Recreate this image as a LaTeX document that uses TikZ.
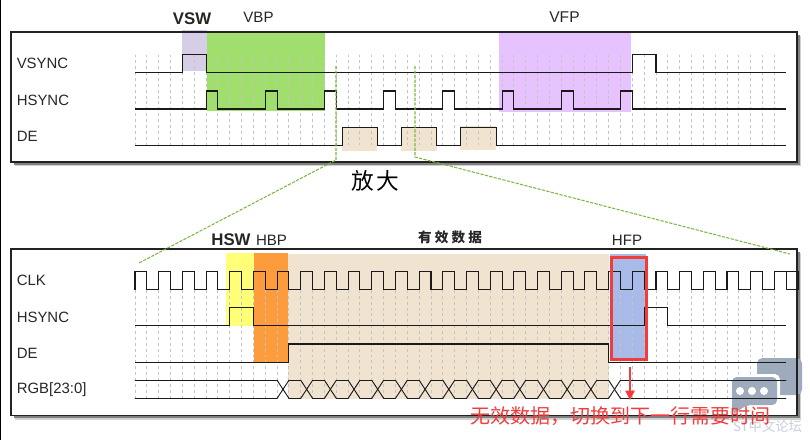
\documentclass[tikz,border=0pt]{standalone}
\usepackage{fontspec}
\setmainfont{Liberation Sans}
\newfontfamily\cjkf{Noto Sans CJK SC}
\usetikzlibrary{arrows.meta}
\definecolor{sigc}{HTML}{1A1A1A}
\definecolor{gridc}{HTML}{C4C4C4}
\definecolor{framec}{HTML}{222222}
\definecolor{vswc}{HTML}{D6CEE6}
\definecolor{vbpc}{HTML}{A0DF6E}
\definecolor{vfpc}{HTML}{E6C2FF}
\definecolor{dec}{HTML}{F0E3D0}
\definecolor{hswc}{HTML}{FFFF78}
\definecolor{hbpc}{HTML}{FD9C3C}
\definecolor{hfpc}{HTML}{A8BBE8}
\definecolor{redc}{HTML}{F23C3C}
\definecolor{greenc}{HTML}{7DB843}
\definecolor{wmc}{HTML}{9DABBD}
\definecolor{wmt}{HTML}{C6CFDB}
\tikzset{
  sigline/.style={draw=sigc,line width=0.8pt,line join=miter},
  busline/.style={draw=sigc,line width=0.7pt,line cap=round},
  gridline/.style={draw=gridc,line width=0.7pt,dash pattern=on 2.2pt off 2.2pt},
  framebox/.style={draw=framec,line width=0.9pt},
  shadowfar/.style={fill=black!18,draw=none},
  shadownear/.style={fill=black!50,draw=none},
  siglabel/.style={anchor=west,font=\fontsize{11.2pt}{12pt}\selectfont,text=black!85,inner sep=0pt},
  toplabel/.style={font=\fontsize{11.3pt}{12pt}\selectfont,text=black!85,inner sep=0pt},
  boldlabel/.style={font=\fontsize{12.6pt}{13pt}\selectfont\bfseries,text=black!85,inner sep=0pt},
  zoomline/.style={draw=greenc,line width=0.8pt,dash pattern=on 2.4pt off 1pt},
  cjklabel/.style={inner sep=0pt,text=black!85},
}
\newcommand{\gridrun}[2]{\foreach \i in {0,...,54}{\draw[gridline] ({135+11.84*\i},#1) -- ({135+11.84*\i},#2);}}
\newcommand{\sig}[3]{\draw[sigline] (135,#1) foreach \a/\b in {#3} { -- ({135+11.84*\a},#1) -- ({135+11.84*\a},#2) -- ({135+11.84*\b},#2) -- ({135+11.84*\b},#1) } -- (786,#1);}
\begin{document}
\begin{tikzpicture}[x=0.75pt,y=-0.75pt]
\useasboundingbox (0,0) rectangle (810,440);
\fill[white] (0,0) rectangle (810,440);
\draw[black,line width=1.1pt] (0.6,0) -- (0.6,440);
% top panel
\fill[shadowfar] (15,36) rectangle (801,166);
\fill[shadownear] (13.5,34.5) rectangle (799.5,164.5);
\fill[white] (11,32) rectangle (797,162);
\fill[vswc] (182,29.5) rectangle (207,71);
\fill[vbpc] (207,32) rectangle (325,110.5);
\fill[vfpc] (498.5,32) rectangle (631,112);
\fill[dec] (342,127) rectangle (377,150.5);
\fill[dec] (401,127) rectangle (437,150.5);
\fill[dec] (460,125.5) rectangle (495.5,149.5);
\draw[framebox] (11,32) rectangle (797,162);
\gridrun{54.5}{147}
\sig{72.5}{54.8}{4/6,42/44}
\sig{109}{91}{6/7,11/12,16/17,21/22,26/27,31/32,36/37,41/42}
\sig{145.5}{127.3}{17.5/20.5,22.5/25.5,27.5/30.5}
\node[siglabel] (lvs) at (16.5,63) {VSYNC};
\node[siglabel] (lhs) at (16.5,100) {HSYNC};
\node[siglabel] (lde) at (16.5,136.5) {DE};
\node[boldlabel] (vsw) at (192,19) {VSW};
\node[toplabel] (vbp) at (258.5,17) {VBP};
\node[toplabel,font=\fontsize{11.7pt}{12pt}\selectfont] (vfp) at (564.5,17) {VFP};
\node[cjklabel,font=\fontsize{17pt}{18pt}\cjkf,text=black] (fangda) at (375,181) {放\hspace{1.6pt}大};
% bottom panel
\fill[shadowfar] (15,253) rectangle (801,419.5);
\fill[shadownear] (13.5,251.5) rectangle (799.5,418);
\fill[white] (11,249) rectangle (797,415.5);
\fill[dec] (287.5,254) rectangle (609,398.5);
\fill[hswc] (226,252.7) rectangle (254,326);
\fill[hbpc] (253.5,252.7) rectangle (287.5,362);
\fill[hfpc] (609.7,254) rectangle (646,358);
\gridrun{290}{398}
% watermark
\fill[wmc,rounded corners=4pt] (757,358) rectangle (802,395);
\fill[white,rounded corners=4pt] (729,374) rectangle (780,408);
\fill[wmc,rounded corners=3.5pt] (732,377) -- (777,377) -- (777,405) -- (747,405) -- (735,413) -- (732,413) -- cycle;
\fill[white] (740,391) circle (3pt) (752,391) circle (3pt) (764,391) circle (3pt);
\draw[framebox] (11,249) rectangle (797,415.5);
\node[inner sep=0pt,font=\fontsize{10pt}{11pt}\cjkf,text=wmt] (wmark) at (767.5,426) {ST中文论坛};
% clock
\draw[sigline] (135,289.7) -- (135,271.7) foreach \i in {0,2,...,54} { -- ({135+11.84*\i},271.7) -- ({135+11.84*(\i+1)},271.7) -- ({135+11.84*(\i+1)},289.7) -- ({135+11.84*(\i+2)},289.7) -- ({135+11.84*(\i+2)},271.7) } -- (786,271.7);
\sig{325.7}{307.7}{8/10,43/45}
\draw[sigline] (135,362.3) -- ({135+11.84*13},362.3) -- ({135+11.84*13},344) -- ({135+11.84*40},344) -- ({135+11.84*40},362.3) -- (786,362.3);
% RGB bus
\draw[busline] (135,380.3) -- ({135+11.84*12},380.3);
\draw[busline] (135,398.3) -- ({135+11.84*12},398.3);
\foreach \i in {12,14,...,40}{
  \draw[busline] ({135+11.84*\i},380.3) -- ({135+11.84*(\i+1)},398.3);
  \draw[busline] ({135+11.84*\i},398.3) -- ({135+11.84*(\i+1)},380.3);
}
\foreach \i in {13,15,...,39}{
  \draw[busline] ({135+11.84*\i},380.3) -- ({135+11.84*(\i+1)},380.3);
  \draw[busline] ({135+11.84*\i},398.3) -- ({135+11.84*(\i+1)},398.3);
}
\draw[busline] ({135+11.84*41},380.3) -- (786,380.3);
\draw[busline] ({135+11.84*41},398.3) -- (786,398.3);
\node[siglabel] (lclk) at (16.5,280.5) {CLK};
\node[siglabel] (lhs2) at (16.5,317) {HSYNC};
\node[siglabel] (lde2) at (16.5,353.5) {DE};
\node[siglabel] (lrgb) at (16.5,390) {RGB[23:0]};
\node[boldlabel] (hsw) at (231,240) {HSW};
\node[toplabel] (hbp) at (271.5,240) {HBP};
\node[toplabel] (hfp) at (627,240.5) {HFP};
\node[cjklabel,font=\fontsize{10.2pt}{11pt}\cjkf\bfseries] (valid) at (450,237) {有\hspace{2.4pt}效\hspace{2.4pt}数\hspace{2.4pt}据};
\draw[redc,line width=2pt] (611.7,257.3) rectangle (646.7,359.3);
% red annotation
\coordinate (arrowtop) at (630,366.7);
\coordinate (arrowend) at (630,400);
\draw[draw=redc,line width=0.9pt,-{Triangle[length=7pt,width=7pt]}] (arrowtop) -- (arrowend);
\node[inner sep=0pt,font=\fontsize{15pt}{16pt}\cjkf,text=redc] (note) at (620,416.5) {无效数据，切换到下一行需要时间};
% zoom lines
\coordinate (za) at (336,66);
\coordinate (zb) at (336,160);
\coordinate (zc) at (139,263);
\coordinate (zd) at (415,66);
\coordinate (ze) at (415,157);
\coordinate (zf) at (790,254);
\draw[zoomline] (za) -- (zb) -- (zc);
\draw[zoomline] (zd) -- (ze) -- (zf);
\end{tikzpicture}
\end{document}
